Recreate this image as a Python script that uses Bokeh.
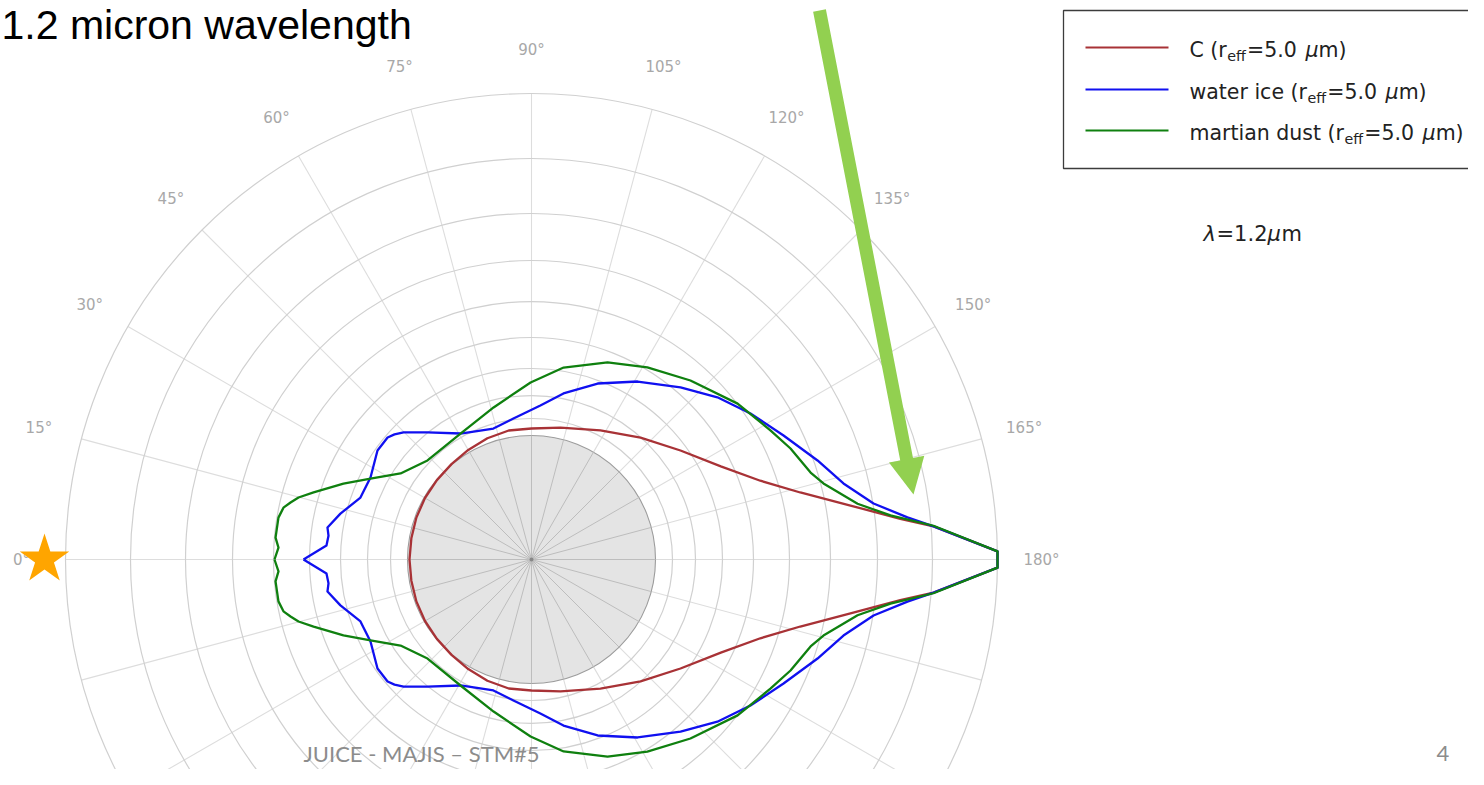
import numpy as np
from bokeh.plotting import figure
from bokeh.models import Range1d
from bokeh.core.properties import value
from bokeh.embed import file_html
from bokeh.resources import INLINE

# ---------------- data (upper half; the curves are symmetric about the 0-180 axis) ----------
# scattering angle (deg, 0 = left / light-source side) and plotted radius (outer ring = 466)
C_THETA = [0, 10, 20, 30, 40, 50, 60, 70, 80, 90, 102.4, 118.1, 131.8, 143.8, 153.8, 161.0,
           166.0, 170.4, 173.7, 175.3, 179.0, 180]
C_R = [122, 122, 122.5, 123, 123.5, 124.5, 126.5, 129, 131, 131, 135, 146.3, 163.6, 184.6, 211,
       242, 277, 323.5, 371, 403.4, 466.1, 466]

ICE_THETA = [0, 3.9, 6.7, 8.9, 13.5, 19.9, 27.0, 35.3, 40.3, 42.4, 44.8, 50.7, 60.6, 73.8, 82.7,
             93.3, 100.9, 110.6, 120.8, 130.9, 138.9, 146.3, 153.8, 160.9, 166.3, 170.7, 173.6,
             175.3, 179.0, 180]
ICE_R = [228, 205.5, 204.4, 206.5, 196.5, 181.9, 180.7, 188.7, 188.7, 185.5, 180.3, 164.2, 144.6,
         136.4, 142.1, 154.3, 169.1, 188, 207.2, 227.6, 246.7, 263.2, 280.9, 302.7, 321.1, 346.6,
         378.3, 403.4, 466.1, 466]

DUST_THETA = [0, 2.7, 4.9, 9.4, 11.8, 13.3, 14.9, 17.1, 22.0, 26.7, 33.3, 43.6, 60.6, 76.0, 89.7,
              99.5, 111.1, 121.1, 131.6, 142.9, 151.6, 156.8, 162.7, 165.4, 170.3, 173.0, 175.2,
              179.0, 180]
DUST_R = [257, 253.3, 256.9, 256.5, 253.4, 247.6, 241.1, 228, 202.8, 180.2, 156.7, 143.6, 144.6,
          156.7, 177, 194.6, 211.2, 224.3, 239.4, 258.4, 271.6, 281.8, 292.3, 301.7, 330.8,
          361.7, 403.4, 466.1, 466]

SERIES_NAMES = ["C", "water ice", "martian dust"]
SERIES_COLORS = ["#a83236", "#1010f0", "#0f800f"]
R_EFF = "5.0"
WAVELENGTH = "1.2"

RING_R = [141, 164, 191, 222, 258, 299, 346, 401, 466]
DISK_R = 124
R_MAX = 466
SPOKE_ANGLES = list(range(0, 360, 15))
TICK_ANGLES = list(range(0, 181, 15))
TICK_LABELS = [f"{a}\u00b0" for a in TICK_ANGLES]

# ---------------- layout helpers (picture pixel -> data) ----------------
CX, CY = 531, 559          # picture position of the polar centre
W, H = 1468, 769


def px(X):
    return X - CX


def py(Y):
    return CY - Y


def pb(Y, size):
    """data y for an alphabetic baseline at picture row Y (renderer sits ~0.35em low)"""
    return py(Y) + 0.35 * size


def pol(theta_deg, r):
    t = np.radians(np.asarray(theta_deg, dtype=float))
    r = np.asarray(r, dtype=float)
    return -r * np.cos(t), r * np.sin(t)


def closed_curve(theta, r):
    x, y = pol(theta, r)
    xs = np.concatenate([x, x[::-1][1:]])
    ys = np.concatenate([y, -y[::-1][1:]])
    return xs, ys


# DejaVu Sans advance widths (em) for the legend texts
ADV = {"C": .698, " ": .318, "(": .390, ")": .390, "r": .411, "w": .818, "a": .613, "t": .392,
       "e": .615, "i": .278, "c": .550, "m": .974, "n": .634, "d": .635, "u": .634, "s": .521,
       "=": .838, "5": .636, ".": .318, "0": .636, "f": .352, "\u03bc": .636, "1": .636, "2": .636}


def tw(s, size):
    return sum(ADV.get(ch, .6) for ch in s) * size


p = figure(width=W, height=H, output_backend="svg", toolbar_location=None,
           x_range=Range1d(px(0), px(W)), y_range=Range1d(py(H), py(0)),
           min_border=0)
p.axis.visible = False
p.grid.visible = False
p.outline_line_color = None
p.background_fill_color = "white"
p.border_fill_color = "white"

# spokes outside the inner disk
sx0, sy0 = pol(SPOKE_ANGLES, [DISK_R] * len(SPOKE_ANGLES))
sx1, sy1 = pol(SPOKE_ANGLES, [R_MAX] * len(SPOKE_ANGLES))
p.multi_line(xs=[[a, b] for a, b in zip(sx0, sx1)], ys=[[a, b] for a, b in zip(sy0, sy1)],
             line_color="#dddddd", line_width=1.1)
# rings
p.circle(x=[0] * len(RING_R), y=[0] * len(RING_R), radius=RING_R,
         fill_color=None, line_color="#d0d0d0", line_width=1.2)
# inner disk
p.circle(x=[0], y=[0], radius=[DISK_R], fill_color="#e4e4e4", line_color="#9c9c9c", line_width=1.1)
p.multi_line(xs=[[0, a] for a in sx0], ys=[[0, b] for b in sy0], line_color="#bdbdbd", line_width=1)
p.scatter(x=[0], y=[0], size=4, marker="circle", fill_color="#888888", line_color=None)

# curves
for th, rr, col in [(C_THETA, C_R, SERIES_COLORS[0]), (ICE_THETA, ICE_R, SERIES_COLORS[1]),
                    (DUST_THETA, DUST_R, SERIES_COLORS[2])]:
    xs, ys = closed_curve(th, rr)
    p.line(xs, ys, line_color=col, line_width=2.3, line_join="round")

# angle labels
lx, ly = pol(TICK_ANGLES, [510] * len(TICK_ANGLES))
p.text(x=lx, y=ly, text=TICK_LABELS, text_align="center", text_baseline="middle",
       text_font=value("DejaVu Sans"), text_font_size="15px", text_color="#a8a8a8")

# sun star
p.scatter(x=[px(44)], y=[py(559)], marker="star", size=52, fill_color="#FFA500", line_color=None)

# green arrow
A0 = np.array([819.0, 10.0])
A1 = np.array([913.0, 494.0])
d = A1 - A0
u = d / np.linalg.norm(d)
n = np.array([u[1], -u[0]])
hw, hl, hh = 6.5, 36, 18
base = A1 - hl * u
pts = [A0 + hw * n, base + hw * n, base + hh * n, A1, base - hh * n, base - hw * n, A0 - hw * n]
p.patch([px(q[0]) for q in pts], [py(q[1]) for q in pts], fill_color="#92d050", line_color=None)

# legend box
p.quad(left=[px(1063)], right=[px(W + 40)], top=[py(10)], bottom=[py(168)],
       fill_color="white", line_color="#3c3c3c", line_width=1.3)
LEG_Y = [47, 89, 130]
FS, SUB = 20.5, 14.3
common = dict(text_baseline="alphabetic", text_align="left", text_color="#222222",
              text_font=value("DejaVu Sans"))
for name, col, yy in zip(SERIES_NAMES, SERIES_COLORS, LEG_Y):
    p.line([px(1085), px(1168)], [py(yy), py(yy)], line_color=col, line_width=2)
    by = yy + 9.5
    x = 1189
    lead = name + " (r"
    p.text(x=[px(x)], y=[pb(by, FS)], text=[lead], text_font_size=f"{FS}px", **common)
    x += tw(lead, FS) + 0.5
    p.text(x=[px(x)], y=[pb(by + 4.5, SUB)], text=["eff"], text_font_size=f"{SUB}px", **common)
    x += tw("eff", SUB) + 1
    p.text(x=[px(x)], y=[pb(by, FS)], text=["=" + R_EFF], text_font_size=f"{FS}px", **common)
    x += tw("=" + R_EFF + " ", FS) + 2
    p.text(x=[px(x)], y=[pb(by, FS)], text=["\u03bc"], text_font_size=f"{FS}px",
           text_font_style="italic", **common)
    x += tw("\u03bc", FS)
    p.text(x=[px(x)], y=[pb(by, FS)], text=["m)"], text_font_size=f"{FS}px", **common)

# wavelength annotation
LFS = 21
lam = dict(common, text_font_size=f"{LFS}px")
bl = pb(241, LFS)
p.text(x=[px(1203)], y=[bl], text=["\u03bb"], text_font_style="italic", **lam)
p.text(x=[px(1216)], y=[bl], text=["=" + WAVELENGTH], **lam)
p.text(x=[px(1267)], y=[bl], text=["\u03bc"], text_font_style="italic", **lam)
p.text(x=[px(1281)], y=[bl], text=["m"], **lam)

# slide title
TFS = 41
p.text(x=[px(1)], y=[pb(39, TFS)], text=[WAVELENGTH + " micron wavelength"],
       text_font=value("Liberation Sans"), text_font_size=f"{TFS}px", text_color="#000000",
       text_baseline="alphabetic", text_align="left")

# slide footer
FFS = 22
foot = dict(text_font=value("Lato"), text_font_size=f"{FFS}px", text_color="#8c8c8c",
            text_baseline="alphabetic", text_align="left")
p.text(x=[px(303)], y=[pb(761, FFS)], text=["JUICE - MAJIS \u2013 STM#5"], **foot)
p.text(x=[px(1436)], y=[pb(761, FFS)], text=["4"], **foot)

open("out.html", "w").write(file_html(p, INLINE))
